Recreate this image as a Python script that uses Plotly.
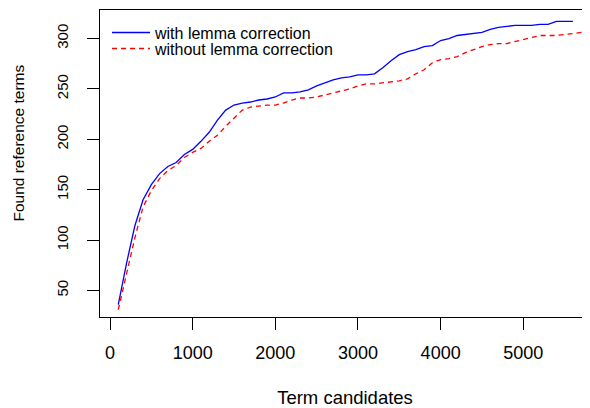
import plotly.graph_objects as go

# Term candidate counts (x)
x_with = [100, 200, 300, 400, 500, 600, 700, 800, 900, 1000,
          1100, 1200, 1300, 1400, 1500, 1600, 1700, 1800, 1900, 2000,
          2100, 2200, 2300, 2400, 2500, 2600, 2700, 2800, 2900, 3000,
          3100, 3200, 3300, 3400, 3500, 3600, 3700, 3800, 3900, 4000,
          4100, 4200, 4300, 4400, 4500, 4600, 4700, 4800, 4900, 5000,
          5100, 5200, 5300, 5400, 5500, 5600]
y_with = [36, 77, 114, 140, 155, 166, 173, 177, 185, 190,
          198, 207, 219, 229, 234, 236, 237, 239, 240, 242,
          246, 246, 247, 249, 253, 256, 259, 261, 262, 264,
          264, 265, 271, 278, 284, 287, 289, 292, 293, 298,
          300, 303, 304, 305, 306, 309, 311, 312, 313, 313,
          313, 314, 314, 317, 317, 317]

x_without = [100, 200, 300, 400, 500, 600, 700, 800, 900, 1000,
             1100, 1200, 1300, 1400, 1500, 1600, 1700, 1800, 1900, 2000,
             2100, 2200, 2300, 2400, 2500, 2600, 2700, 2800, 2900, 3000,
             3100, 3200, 3300, 3400, 3500, 3600, 3700, 3800, 3900, 4000,
             4100, 4200, 4300, 4400, 4500, 4600, 4700, 4800, 4900, 5000,
             5100, 5200, 5300, 5400, 5500, 5600, 5700, 5800]
y_without = [31, 68, 102, 133, 149, 161, 169, 174, 182, 187,
             191, 198, 204, 213, 221, 229, 232, 233, 234, 234,
             236, 239, 241, 241, 242, 244, 246, 248, 250, 253,
             255, 255, 256, 257, 258, 260, 265, 269, 276, 279,
             280, 282, 286, 289, 292, 294, 295, 295, 297, 299,
             301, 303, 303, 303, 304, 305, 306, 307]

x_ticks = [0, 1000, 2000, 3000, 4000, 5000]
y_ticks = [50, 100, 150, 200, 250, 300]

series_names = ["with lemma correction", "without lemma correction"]
x_title = "Term candidates"
y_title = "Found reference terms"

FONT = "Liberation Sans, Arial, Helvetica, sans-serif"

fig = go.Figure()
fig.add_trace(go.Scatter(x=x_with, y=y_with, mode="lines", name=series_names[0],
                         line=dict(color="#0000FF", width=1.3), legend="legend"))
fig.add_trace(go.Scatter(x=x_without, y=y_without, mode="lines", name=series_names[1],
                         line=dict(color="#FF0000", width=1.3, dash="5px,4px"), legend="legend2"))

legend_common = dict(xanchor="left", yanchor="top", bgcolor="rgba(0,0,0,0)", borderwidth=0,
                     font=dict(size=16, family=FONT), itemwidth=38)

fig.update_layout(
    width=582, height=400,
    margin=dict(l=92, r=0, t=2, b=91, autoexpand=False),
    paper_bgcolor="white", plot_bgcolor="white",
    font=dict(family=FONT, color="black"),
    showlegend=True,
    legend=dict(x=0.0143, y=0.9817, **legend_common),
    legend2=dict(x=0.0143, y=0.9297, **legend_common),
    xaxis=dict(range=[-121, 5807], tickvals=x_ticks, ticktext=[str(v) for v in x_ticks],
               showgrid=False, zeroline=False, showline=True, linecolor="black", linewidth=1,
               mirror=True, ticks="outside", ticklen=12, tickcolor="black", tickwidth=1,
               tickfont=dict(size=18), automargin=False, ticklabelstandoff=7,
               title=dict(text=x_title, font=dict(size=18.5), standoff=32)),
    yaxis=dict(range=[23.7, 328.3], tickvals=y_ticks, ticktext=[str(v) for v in y_ticks],
               showgrid=False, zeroline=False, showline=True, linecolor="black", linewidth=1,
               mirror=False, ticks="outside", ticklen=12, tickcolor="black", tickwidth=1,
               tickangle=-90, tickfont=dict(size=15), automargin=False, ticklabelstandoff=13),
    annotations=[dict(text=y_title, xref="paper", yref="paper", x=-0.1653, y=0.565,
                      xanchor="center", yanchor="middle", textangle=-90, showarrow=False,
                      font=dict(size=15.5, family=FONT, color="black"))],
)

fig.write_html("out.html")
